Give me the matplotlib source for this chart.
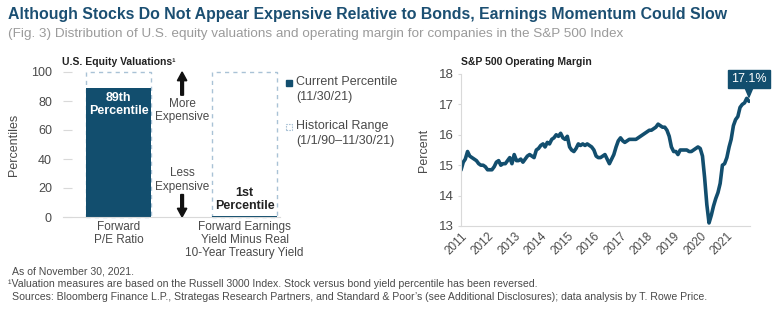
import matplotlib
matplotlib.use("Agg")
import matplotlib.pyplot as plt
import matplotlib.dates as mdates
from matplotlib.patches import Rectangle, FancyArrow
import pandas as pd

plt.rcParams['font.family'] = ['Liberation Sans', 'DejaVu Sans']

# ---- data -------------------------------------------------------------
categories = ["Forward\nP/E Ratio",
              "Forward Earnings\nYield Minus Real\n10-Year Treasury Yield"]
current_percentile = [89, 1]
range_top = [100, 100]
bar_labels = ["89th\nPercentile", "1st\nPercentile"]
yticks_left = [0, 20, 40, 60, 80, 100]

margin_dates = pd.date_range("2011-01-01", periods=131, freq="MS")
operating_margin = [
    14.84, 15.1, 15.2, 15.45, 15.3, 15.25, 15.2, 15.15, 15.05, 15.0, 15.0, 14.95,
    14.85, 14.85, 14.85, 14.95, 15.1, 15.15, 15.0, 15.05, 15.05, 15.15, 15.25, 15.05,
    15.35, 15.15, 15.15, 15.2, 15.1, 15.2, 15.3, 15.35, 15.3, 15.25, 15.5, 15.55,
    15.65, 15.7, 15.6, 15.75, 15.7, 15.85, 15.9, 16.0, 15.95, 16.05, 15.9, 15.85,
    15.95, 15.6, 15.5, 15.45, 15.55, 15.7, 15.65, 15.7, 15.65, 15.7, 15.65, 15.6,
    15.5, 15.3, 15.25, 15.25, 15.3, 15.35, 15.2, 15.05, 15.2, 15.35, 15.6, 15.8,
    15.9, 15.8, 15.75, 15.8, 15.85, 15.85, 15.85, 15.85, 15.9, 15.95, 16.0, 16.05,
    16.1, 16.15, 16.15, 16.2, 16.25, 16.35, 16.3, 16.25, 16.25, 16.15, 15.95, 15.6,
    15.45, 15.45, 15.35, 15.5, 15.5, 15.5, 15.5, 15.45, 15.45, 15.5, 15.55, 15.6,
    15.55, 15.3, 14.6, 13.7, 13.1, 13.35, 13.65, 13.9, 14.1, 14.4, 15.0, 15.05,
    15.25, 15.6, 15.85, 16.3, 16.5, 16.6, 16.9, 17.0, 17.05, 17.2, 17.1,
]
year_ticks = list(range(2011, 2022))

# ---- style ------------------------------------------------------------
NAVY = "#124e6e"
TITLE = "#1b4f72"
GREY_TXT = "#4a4a4a"
LIGHT = "#d9d9d9"
DASH = "#a9c2d6"

W, H = 782, 328
fig = plt.figure(figsize=(W / 100, H / 100), dpi=100)


def fx(px):
    return px / W


def fy(py):
    return 1 - py / H


fig.text(fx(8), fy(15), "Although Stocks Do Not Appear Expensive Relative to Bonds, Earnings Momentum Could Slow",
         fontsize=11.4, fontweight="bold", color=TITLE, va="center", ha="left")
fig.text(fx(8), fy(34), "(Fig. 3) Distribution of U.S. equity valuations and operating margin for companies in the S&P 500 Index",
         fontsize=9.7, color="#9b9b9b", va="center", ha="left")

# ---- left panel: valuation percentiles ---------------------------------
axL = fig.add_axes([fx(63), fy(217), fx(280 - 63), (217 - 72) / H])
x_pos = [0, 1]
bw = 0.516
axL.set_xlim(-0.44, 1.28)
axL.set_ylim(0, 100)
for x, top in zip(x_pos, range_top):
    axL.add_patch(Rectangle((x - bw / 2, 0), bw, top, fill=False, edgecolor=DASH,
                            linestyle=(0, (3, 3)), linewidth=1.0, clip_on=False))
axL.bar(x_pos, current_percentile, width=bw, color=NAVY, zorder=2)

axL.text(x_pos[0], current_percentile[0] - 2.5, bar_labels[0], ha="center", va="top",
         color="white", fontsize=9, fontweight="bold", linespacing=1.15)
axL.text(x_pos[1], current_percentile[1] + 2.5, bar_labels[1], ha="center", va="bottom",
         color="#222222", fontsize=9, fontweight="bold", linespacing=1.15)

for spine in ["top", "right", "left"]:
    axL.spines[spine].set_visible(False)
axL.spines["bottom"].set_color(LIGHT)
axL.set_yticks(yticks_left)
axL.tick_params(axis="y", direction="in", length=6.5, color=LIGHT, pad=8,
                labelsize=9, labelcolor=GREY_TXT)
axL.set_xticks(x_pos)
axL.set_xticklabels(categories, fontsize=8.5, color=GREY_TXT, linespacing=1.1)
axL.tick_params(axis="x", length=0, pad=3)
axL.set_ylabel("Percentiles", fontsize=9, color=GREY_TXT, labelpad=8)

# direction arrows
ax_arrow_x = 0.504
axL.add_patch(FancyArrow(ax_arrow_x, 84, 0, 16, width=0.022, head_width=0.075,
                         head_length=6, length_includes_head=True, color="#111111",
                         clip_on=False))
axL.add_patch(FancyArrow(ax_arrow_x, 15.5, 0, -15.5, width=0.022, head_width=0.075,
                         head_length=6, length_includes_head=True, color="#111111",
                         clip_on=False))
axL.text(ax_arrow_x, 73.5, "More\nExpensive", ha="center", va="center", fontsize=8.5,
         color=GREY_TXT, linespacing=1.15)
axL.text(ax_arrow_x, 25.5, "Less\nExpensive", ha="center", va="center", fontsize=8.5,
         color=GREY_TXT, linespacing=1.15)

fig.text(fx(62), fy(62), "U.S. Equity Valuations\u00b9", fontsize=7.5, fontweight="bold",
         color="#222222", va="center", ha="left")

# legend
fig.patches.append(Rectangle((fx(285.5), fy(85.5)), fx(6), 6 / H, facecolor=NAVY,
                             edgecolor=NAVY, transform=fig.transFigure, figure=fig))
fig.patches.append(Rectangle((fx(285.5), fy(129.5)), fx(6), 6 / H, facecolor="white",
                             edgecolor=DASH, linestyle=(0, (1.5, 1)), linewidth=0.8,
                             transform=fig.transFigure, figure=fig))
for py, txt in [(82, "Current Percentile"), (97, "(11/30/21)"),
                (126, "Historical Range"), (141, "(1/1/90\u201311/30/21)")]:
    fig.text(fx(296), fy(py), txt, fontsize=9, color=GREY_TXT, va="center", ha="left")

# ---- right panel: operating margin -------------------------------------
axR = fig.add_axes([fx(461), fy(226), fx(750 - 461), (226 - 74) / H])
axR.plot(margin_dates, operating_margin, color=NAVY, linewidth=2.6,
         solid_joinstyle="round", solid_capstyle="round")
axR.set_ylim(13, 18)
axR.set_xlim(pd.Timestamp("2011-01-01"), pd.Timestamp("2021-11-15"))
axR.set_yticks([13, 14, 15, 16, 17, 18])
axR.set_xticks([pd.Timestamp(f"{y}-01-01") for y in year_ticks])
axR.xaxis.set_major_formatter(mdates.DateFormatter("%Y"))
for spine in ["top", "right"]:
    axR.spines[spine].set_visible(False)
for spine in ["left", "bottom"]:
    axR.spines[spine].set_color(LIGHT)
axR.tick_params(axis="y", length=2.5, color=LIGHT, labelsize=9.5, labelcolor=GREY_TXT, pad=3)
axR.tick_params(axis="x", length=0, labelsize=8.5, labelcolor=GREY_TXT, pad=3)
for lab in axR.get_xticklabels():
    lab.set_rotation(45)
    lab.set_ha("right")
    lab.set_rotation_mode("anchor")
axR.set_ylabel("Percent", fontsize=9, color=GREY_TXT, labelpad=6)

fig.text(fx(461), fy(62), "S&P 500 Operating Margin", fontsize=7.5, fontweight="bold",
         color="#222222", va="center", ha="left")

# end-value callout
last_x, last_y = margin_dates[-1], operating_margin[-1]
axR.annotate(f"{last_y:.1f}%", xy=(last_x, last_y), xytext=(0, 12),
             textcoords="offset points", ha="center", va="bottom",
             fontsize=9, color="white",
             bbox=dict(boxstyle="square,pad=0.25", fc=NAVY, ec=NAVY),
             arrowprops=dict(arrowstyle="wedge,tail_width=0.6", fc=NAVY, ec=NAVY,
                             shrinkA=0, shrinkB=3),
             annotation_clip=False)

# ---- footnotes ---------------------------------------------------------
fig.text(fx(12), fy(271), "As of November 30, 2021.", fontsize=7.6, color=GREY_TXT, va="center")
fig.text(fx(8), fy(284), "\u00b9Valuation measures are based on the Russell 3000 Index. Stock versus bond yield percentile has been reversed.",
         fontsize=7.6, color=GREY_TXT, va="center")
fig.text(fx(12), fy(297), "Sources: Bloomberg Finance L.P., Strategas Research Partners, and Standard & Poor\u2019s (see Additional Disclosures); data analysis by T. Rowe Price.",
         fontsize=7.6, color=GREY_TXT, va="center")

fig.savefig("out.png", dpi=100)
